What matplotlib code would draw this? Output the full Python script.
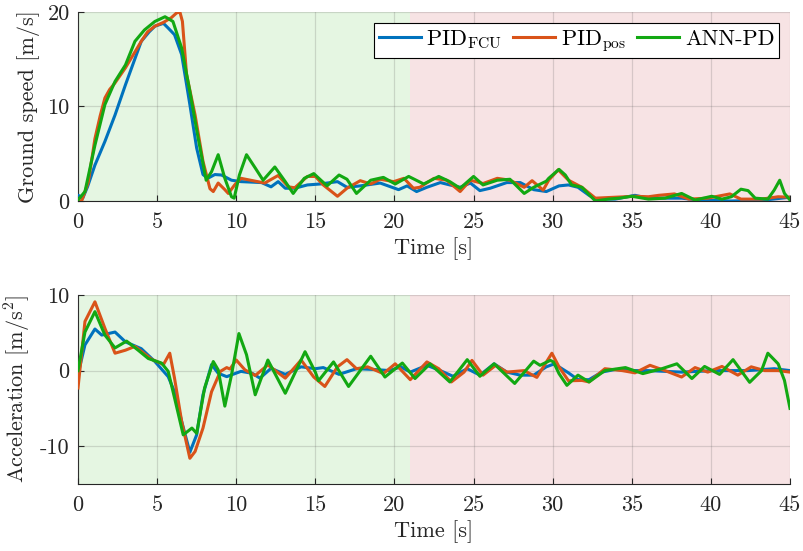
import matplotlib
matplotlib.use("Agg")
import matplotlib.pyplot as plt

plt.rcParams['font.family'] = ['cmr10', 'DejaVu Serif']
plt.rcParams['mathtext.fontset'] = 'cm'
plt.rcParams['axes.unicode_minus'] = False
plt.rcParams['axes.formatter.use_mathtext'] = False

# ---------------- data ----------------
labels = ['PID$_{\\rm FCU}$', 'PID$_{\\rm pos}$', 'ANN-PD']
colors = ['#0072BD', '#D95319', '#12A812']

t_fcu_speed = [0, 0.15, 0.3, 0.6, 1.07, 1.7, 2.34, 3.0, 3.5, 4.0, 4.5, 4.86, 5.4, 5.7, 6.1, 6.55, 7.07, 7.5, 7.9, 8.2,
               8.65, 9.07, 9.7, 10.3, 11.6, 12.2, 12.65, 13.1, 13.7, 14.5, 15.3, 15.74, 16.4, 17.0, 17.84, 19.1, 20.26,
               20.8, 21.4, 22.05, 22.9, 23.5, 24.15, 24.8, 25.4, 26.05, 27.1, 27.95, 28.8, 29.6, 30.4, 31.0, 31.6, 32.3,
               32.7, 33.95, 35.2, 36.05, 38.15, 39.2, 41.3, 43.4, 45]
v_fcu_speed = [0.6, 0.5, 0.3, 1.5, 3.8, 6.3, 9.1, 12.3, 14.6, 16.9, 17.9, 18.5, 18.8, 18.3, 17.6, 15.5, 10.2, 5.6, 2.8, 2.4,
               2.8, 2.75, 2.2, 2.05, 1.95, 1.5, 2.05, 1.35, 1.35, 1.7, 1.8, 1.9, 2.05, 1.45, 1.6, 1.9, 1.2,
               1.6, 1.0, 1.45, 1.95, 1.7, 1.45, 1.9, 1.1, 1.35, 1.95, 1.95, 1.2, 1.0, 1.6, 1.7, 1.45, 0.6,
               0.2, 0.2, 0.6, 0.3, 0.3, 0.1, 0.0, 0.1, 0.4]

t_pos_speed = [0, 0.23, 0.65, 1.07, 1.4, 1.7, 2.0, 2.34, 3.0, 3.5, 4.0, 4.4, 4.86, 5.4, 5.9, 6.23, 6.44, 6.6, 6.86, 7.4,
               7.9, 8.34, 8.55, 8.86, 9.28, 9.5, 9.9, 10.3, 11.2, 11.8, 12.65, 13.3, 13.7, 14.5, 15.0, 15.5, 16.4, 17.0,
               17.84, 18.5, 19.1, 19.95, 20.6, 21.2, 21.6, 22.5, 23.3, 24.15, 24.8, 25.6, 26.5, 27.3, 28.2, 28.7, 29.4,
               29.75, 30.35, 31.0, 31.85, 32.7, 33.95, 35.2, 36.05, 36.7, 37.7, 38.6, 39.8, 41.2, 41.9, 43.2, 44.25, 45]
v_pos_speed = [0, 0, 2.0, 6.6, 9.0, 10.9, 11.8, 12.5, 14.1, 15.5, 16.9, 17.9, 18.5, 18.9, 19.4, 19.9, 20.0, 19.0, 13.4, 9.1,
               4.2, 1.3, 1.0, 1.9, 1.2, 0.8, 1.7, 2.4, 2.1, 1.9, 2.7, 1.5, 1.4, 2.6, 2.6, 1.7, 0.5, 1.35,
               2.15, 1.8, 2.3, 2.05, 2.4, 1.35, 1.45, 2.4, 2.2, 1.0, 2.2, 1.85, 2.4, 2.2, 1.45, 2.15, 1.15,
               2.2, 3.3, 2.2, 1.45, 0.3, 0.4, 0.5, 0.45, 0.6, 0.75, 0.2, 0.3, 0.75, 0.2, 0.2, 0.45, 0.4]

t_ann_speed = [0, 0.44, 1.07, 1.7, 2.34, 3.0, 3.6, 4.2, 4.86, 5.5, 6.0, 6.55, 7.07, 7.6, 8.1, 8.44, 8.86, 9.28, 9.7, 9.87,
               10.2, 10.65, 11.2, 11.7, 12.44, 13.1, 13.6, 14.3, 14.9, 15.74, 16.5, 17.0, 17.6, 18.5, 19.3, 20.05, 20.9,
               21.85, 22.8, 23.5, 24.15, 25.0, 25.6, 26.5, 27.3, 28.2, 28.8, 29.6, 29.75, 30.4, 30.8, 31.2, 31.85, 32.7,
               33.5, 34.2, 35.0, 36.05, 37.1, 38.15, 39.0, 40.05, 40.7, 41.3, 41.9, 42.35, 42.8, 43.6, 44.0, 44.35,
               44.65, 45]
v_ann_speed = [0.1, 1.0, 5.9, 10.2, 12.65, 14.4, 16.9, 18.1, 19.0, 19.5, 19.0, 16.2, 11.6, 6.6, 2.2, 3.1, 4.9, 2.4, 0.45, 0.3,
               2.75, 4.9, 3.5, 2.2, 3.6, 2.05, 0.8, 2.4, 2.9, 1.6, 2.75, 2.3, 0.8, 2.2, 2.5, 1.8, 2.6,
               1.8, 2.6, 2.05, 1.35, 2.6, 1.7, 2.2, 2.3, 0.8, 1.45, 2.1, 2.4, 3.35, 2.75, 1.7, 1.45, 0.0,
               0.2, 0.3, 0.5, 0.2, 0.3, 0.8, 0.1, 0.5, 0.2, 0.45, 1.25, 1.1, 0.3, 0.2, 1.15, 2.2,
               0.8, 0.1]

t_fcu_acc = [0, 0.44, 1.07, 1.5, 2.34, 3.0, 4.0, 4.86, 5.7, 6.1, 6.55, 7.07, 7.5, 7.9, 8.44, 8.86, 9.4, 10.3, 11.0, 11.5,
             12.2, 13.1, 14.1, 15.0, 15.5, 15.95, 16.5, 17.6, 18.7, 19.7, 20.4, 21.0, 22.05, 22.9, 23.7, 24.6, 25.4,
             26.3, 27.1, 27.95, 28.8, 29.6, 30.05, 30.4, 31.0, 31.6, 32.3, 33.1, 33.95, 35.2, 36.05, 38.15, 40.25,
             42.35, 44.0, 45]
a_fcu_acc = [-0.5, 3.4, 5.5, 4.7, 5.1, 3.8, 2.9, 1.2, -0.8, -2.8, -6.7, -10.8, -8.5, -3.2, 0.8, -0.35, -0.8, -0.1, -0.35, -1.0,
             0.3, -0.5, 0.5, 0.25, 0.4, 0.0, -0.5, 0.25, 0.15, 0.0, 0.5, -0.2, 0.7, 0.0, -0.75, 0.25, -0.6,
             0.9, -0.2, -0.6, -0.6, 0.5, 0.85, 0.5, -0.3, -1.2, -1.2, -0.2, 0.15, 0.0, 0.0, -0.2, 0.0,
             0.0, 0.25, 0.0]

t_pos_acc = [0, 0.44, 1.07, 1.7, 2.34, 3.0, 3.6, 4.65, 5.4, 5.8, 6.1, 6.55, 7.07, 7.4, 7.9, 8.44, 9.0, 9.4, 9.6, 10.0,
             10.55, 11.2, 12.0, 13.1, 14.1, 14.9, 15.6, 16.4, 17.0, 17.6, 18.3, 19.3, 20.05, 21.0, 22.05, 22.8, 23.6,
             24.4, 24.9, 25.6, 26.4, 27.1, 28.2, 29.0, 29.95, 30.4, 31.0, 31.85, 32.3, 33.3, 34.4, 35.2, 36.15, 37.1,
             38.15, 39.0, 39.8, 40.7, 41.7, 42.55, 43.4, 44.25, 45]
a_pos_acc = [-2.3, 6.5, 9.1, 5.6, 2.3, 2.7, 3.2, 1.5, 0.8, 2.3, -1.0, -6.7, -11.6, -10.7, -7.6, -2.8, -0.1, 0.4, 0.2, 1.4,
             0.1, -0.65, 0.75, -1.0, 1.4, -0.85, -2.1, 0.5, 1.45, 0.25, 0.5, -0.4, 0.9, -1.2, 1.15, 0.25, -1.5,
             -0.2, 1.35, -0.6, 0.7, -0.2, 0.0, -0.9, 2.3, 0.5, -1.35, -1.3, -1.5, 0.25, 0.0, -0.3, 0.7, 0.0,
             -0.85, 0.4, -0.2, 0.55, -0.6, 0.5, 0.0, 0.0, -0.2]

t_ann_acc = [0, 0.44, 1.07, 1.7, 2.34, 3.07, 3.8, 4.44, 5.28, 5.7, 6.1, 6.65, 7.2, 7.5, 8.0, 8.55, 8.86, 9.28, 9.7, 10.17,
             10.65, 11.2, 12.0, 13.1, 14.35, 15.0, 15.2, 16.15, 17.1, 18.5, 19.4, 20.5, 21.3, 22.25, 23.5, 24.6, 25.4,
             26.3, 27.6, 28.8, 29.2, 29.85, 30.05, 30.4, 30.9, 31.6, 32.3, 33.3, 34.6, 35.7, 36.9, 37.85, 38.8, 39.6,
             40.55, 41.4, 42.45, 43.2, 43.6, 44.25, 44.65, 45]
a_ann_acc = [0.0, 5.1, 7.8, 4.7, 3.0, 3.9, 2.7, 1.6, 1.0, -0.1, -3.6, -8.5, -7.6, -8.3, -2.3, 1.2, 0.1, -4.7, -0.6, 4.9,
             2.1, -3.2, 1.4, -3.0, 2.5, -0.2, -1.35, 1.15, -2.1, 1.9, -0.85, 1.0, -1.05, 0.9, -1.5, 1.45, -0.75,
             0.9, -1.7, 1.25, 0.7, 1.35, 1.15, -0.4, -1.95, -0.6, -1.5, 0.0, 0.4, -0.4, 0.25, 0.9, -1.05, 0.55,
             -0.5, 1.45, -1.55, 0.0, 2.3, 0.9, -1.3, -5.0]

phase_edges = [0, 21, 45]
phase_colors = ['#E5F6E2', '#F7E3E4']

xticks = [0, 5, 10, 15, 20, 25, 30, 35, 40, 45]

# ---------------- figure ----------------
fig = plt.figure(figsize=(8.04, 5.51), dpi=100)
ax1 = fig.add_axes([78/804, 1-201/551, 712/804, 189/551])
ax2 = fig.add_axes([78/804, 1-484/551, 712/804, 189/551])

speed = [(t_fcu_speed, v_fcu_speed), (t_pos_speed, v_pos_speed), (t_ann_speed, v_ann_speed)]
acc = [(t_fcu_acc, a_fcu_acc), (t_pos_acc, a_pos_acc), (t_ann_acc, a_ann_acc)]

FS = 16
dark = '#262626'
for ax, series, ylim, yticks, ylabel in [
        (ax1, speed, (0, 20), [0, 10, 20], 'Ground speed [m/s]'),
        (ax2, acc, (-15, 10), [-10, 0, 10], 'Acceleration [m/s$^2$]')]:
    for i in range(len(phase_colors)):
        ax.axvspan(phase_edges[i], phase_edges[i+1], color=phase_colors[i], lw=0, zorder=0)
    for (tt, yy), c, lab in zip(series, colors, labels):
        ax.plot(tt, yy, color=c, lw=2.2, label=lab, zorder=3, solid_joinstyle='round')
    ax.set_xlim(0, 45)
    ax.set_ylim(*ylim)
    ax.set_xticks(xticks)
    ax.set_yticks(yticks)
    ax.grid(True, color='#555555', alpha=0.2, lw=0.9)
    ax.set_axisbelow(False)
    for s in ['top', 'right']:
        ax.spines[s].set_visible(False)
    for s in ['left', 'bottom']:
        ax.spines[s].set_color(dark)
        ax.spines[s].set_linewidth(0.8)
    ax.tick_params(direction='in', length=4, width=0.8, colors=dark, labelsize=FS, pad=6)
    ax.tick_params(axis='x', pad=8)
    ax.set_xlabel('Time [s]', fontsize=FS, color=dark, labelpad=4)
    ax.set_ylabel(ylabel, fontsize=FS, color=dark, labelpad=5)

leg = ax1.legend(loc='upper right', ncol=3, fontsize=FS, frameon=True, fancybox=False,
                 edgecolor='black', framealpha=1, handlelength=1.9, handletextpad=0.25,
                 columnspacing=0.5, borderpad=0.2, borderaxespad=0.5)
leg.get_frame().set_linewidth(0.8)

fig.savefig('out.png', dpi=100)
